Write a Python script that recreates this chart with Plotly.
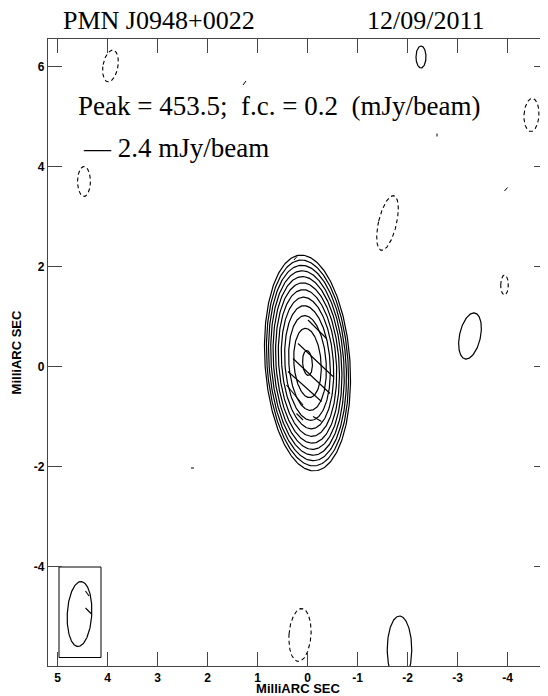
import numpy as np
import plotly.graph_objects as go

# ---------------- data (all in milli-arcseconds / mJy per beam) ----------------
source_name = "PMN J0948+0022"
obs_date = "12/09/2011"
peak_text = "Peak = 453.5;\u00a0 f.c. = 0.2\u00a0 (mJy/beam)"
vector_text = "\u2014 2.4 mJy/beam"

x_range = [5.19, -4.81]
y_range = [-5.99, 6.55]
x_ticks = [5, 4, 3, 2, 1, 0, -1, -2, -3, -4]
y_ticks = [-4, -2, 0, 2, 4, 6]

# core modelled as an elliptical Gaussian
core_peak = 453.5
core_x = 0.0
core_y = 0.07
core_sig_x = 0.216
core_sig_y = 0.55
core_pa = 4.0
contour_levels = [0.2, 0.4, 0.8, 1.6, 3.2, 6.4, 12.8, 25.6, 51.2, 102.4, 204.8, 409.6]

# isolated first-contour islands (+1 solid, -1 dashed)
blob_x = [3.94, 4.47, -2.27, -4.48, -1.60, -3.94, -3.25, 0.15, -1.84]
blob_y = [6.01, 3.70, 6.19, 5.03, 2.87, 1.63, 0.61, -5.37, -5.66]
blob_a = [0.15, 0.13, 0.10, 0.15, 0.18, 0.076, 0.21, 0.22, 0.245]
blob_b = [0.32, 0.30, 0.22, 0.33, 0.56, 0.20, 0.47, 0.53, 0.67]
blob_pa = [-10, 0, 0, -3, -13, 0, -12, -4, 0]
blob_sign = [-1, -1, 1, -1, -1, -1, 1, -1, 1]

# polarisation vectors (start / end)
vec_x0 = [-0.01, 0.19, 0.29, 0.39, 0.42, 0.22, -0.11, 4.44, 4.44]
vec_y0 = [0.93, 0.46, 0.16, -0.10, -0.37, -0.94, -1.00, -4.49, -4.83]
vec_x1 = [-0.38, -0.51, -0.45, -0.28, 0.09, 0.09, -0.28, 4.37, 4.32]
vec_y1 = [0.56, -0.20, -0.54, -0.70, -0.77, -1.07, -1.10, -4.59, -4.95]

# tiny stray contour fragments
frag_x0 = [1.29, -2.59, -3.94, 2.33, 0.27]
frag_y0 = [5.63, 4.60, 3.51, -2.03, 2.13]
frag_x1 = [1.23, -2.59, -4.00, 2.27, 0.21]
frag_y1 = [5.71, 4.66, 3.58, -2.03, 2.20]

# restoring beam and its box
beam_x = 4.56
beam_y = -4.95
beam_a = 0.245
beam_b = 0.65
beam_pa = -3.0
beam_box_x = [4.97, 4.13]
beam_box_y = [-4.01, -5.82]

# ---------------- helpers ----------------
def ellipse(xc, yc, a, b, pa_deg, n=240):
    t = np.linspace(0, 2 * np.pi, n)
    th = np.radians(pa_deg)
    ca, sa = a * np.cos(t), b * np.sin(t)
    x = xc + ca * np.cos(th) + sa * np.sin(th)
    y = yc - ca * np.sin(th) + sa * np.cos(th)
    return list(x), list(y)

solid_x, solid_y, dash_x, dash_y = [], [], [], []
for lev in contour_levels:
    k = np.sqrt(2 * np.log(core_peak / lev))
    ex, ey = ellipse(core_x, core_y, core_sig_x * k, core_sig_y * k, core_pa)
    solid_x += ex + [None]
    solid_y += ey + [None]

for xc, yc, a, b, pa, s in zip(blob_x, blob_y, blob_a, blob_b, blob_pa, blob_sign):
    ex, ey = ellipse(xc, yc, a, b, pa)
    if s > 0:
        solid_x += ex + [None]
        solid_y += ey + [None]
    else:
        dash_x += ex + [None]
        dash_y += ey + [None]

def segs(x0, y0, x1, y1):
    xs, ys = [], []
    for a, b, c, d in zip(x0, y0, x1, y1):
        xs += [a, c, None]
        ys += [b, d, None]
    return xs, ys

vx, vy = segs(vec_x0, vec_y0, vec_x1, vec_y1)
fx, fy = segs(frag_x0, frag_y0, frag_x1, frag_y1)
bx, by = ellipse(beam_x, beam_y, beam_a, beam_b, beam_pa)
box_x = [beam_box_x[0], beam_box_x[1], beam_box_x[1], beam_box_x[0], beam_box_x[0]]
box_y = [beam_box_y[0], beam_box_y[0], beam_box_y[1], beam_box_y[1], beam_box_y[0]]

fig = go.Figure()
line_kw = dict(mode="lines", hoverinfo="skip", showlegend=False)
fig.add_trace(go.Scatter(x=solid_x, y=solid_y, line=dict(color="black", width=1.2), **line_kw))
fig.add_trace(go.Scatter(x=dash_x, y=dash_y, line=dict(color="black", width=1.1, dash="4px,3px"), **line_kw))
fig.add_trace(go.Scatter(x=vx, y=vy, line=dict(color="black", width=1.1), **line_kw))
fig.add_trace(go.Scatter(x=fx, y=fy, line=dict(color="black", width=1.0), **line_kw))
fig.add_trace(go.Scatter(x=bx, y=by, line=dict(color="black", width=1.2), **line_kw))
fig.add_trace(go.Scatter(x=box_x, y=box_y, line=dict(color="black", width=1.0), **line_kw))

# the page body adds an 8px offset, so the figure is 8px smaller than the window
OFF = 8
W, H = 540, 688
ML, MR, MT, MB = 40, 0, 31, 30

def px(xs):
    return (xs - OFF - ML) / (W - ML - MR)

def py(ys):
    return (H - MB - (ys - OFF)) / (H - MT - MB)

serif26 = dict(family="Liberation Serif, Times New Roman, serif", size=26, color="black")
serif27 = dict(family="Liberation Serif, Times New Roman, serif", size=27, color="black")
ann = [
    dict(text=source_name, x=px(62), y=py(20), font=serif26),
    dict(text=obs_date, x=px(366), y=py(20), font=serif26),
    dict(text=peak_text, x=px(77), y=py(106), font=serif27),
    dict(text=vector_text, x=px(82), y=py(148), font=serif27),
]
for a in ann:
    fig.add_annotation(xref="paper", yref="paper", xanchor="left", yanchor="middle",
                       showarrow=False, borderpad=0, **a)

tickfont = dict(family="Liberation Sans, Arial, sans-serif", size=12, color="black", weight="bold")
titlefont = dict(family="Liberation Sans, Arial, sans-serif", size=13, color="black", weight="bold")
axis_common = dict(showgrid=False, zeroline=False, showline=True, linecolor="#444",
                   linewidth=1.2, mirror="ticks", ticks="inside", ticklen=14,
                   tickcolor="#444", tickwidth=1.2, tickfont=tickfont, automargin=False)

fig.update_xaxes(range=x_range, tickvals=x_ticks, ticktext=[str(v) for v in x_ticks],
                 title=dict(text="MilliARC SEC", font=titlefont, standoff=0), **axis_common)
fig.update_yaxes(range=y_range, tickvals=y_ticks, ticktext=[str(v) for v in y_ticks],
                 title=dict(text="MilliARC SEC", font=titlefont, standoff=9), **axis_common)

fig.update_layout(width=W, height=H, margin=dict(l=ML, r=MR, t=MT, b=MB),
                  paper_bgcolor="white", plot_bgcolor="white")

fig.write_html("out.html")
